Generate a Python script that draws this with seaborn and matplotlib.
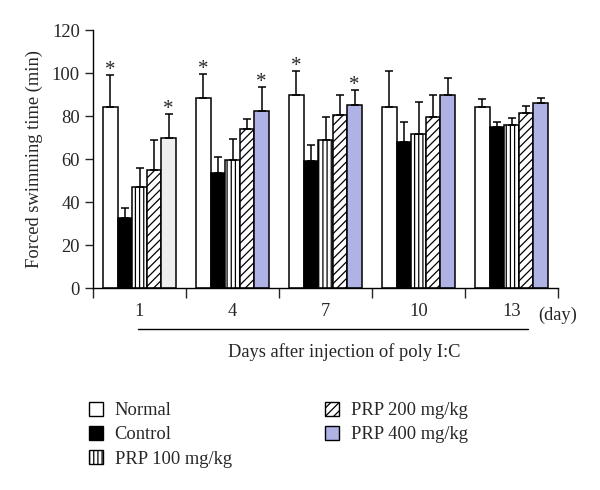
import pandas as pd
import numpy as np
import matplotlib
matplotlib.use('Agg')
import matplotlib.pyplot as plt
from matplotlib.patches import Patch
from matplotlib.lines import Line2D
import seaborn as sns

# --- Data ---
days = ['1', '4', '7', '10', '13']
groups = ['Normal', 'Control', 'PRP 100 mg/kg', 'PRP 200 mg/kg', 'PRP 400 mg/kg']

normal_mean = [84, 88.5, 90, 84, 84]
control_mean = [32.5, 53.5, 59, 68, 75]
prp100_mean = [47, 59.5, 69, 71.5, 76]
prp200_mean = [55, 74, 80.5, 79.5, 81.5]
prp400_mean = [70, 82.5, 85, 90, 86]

normal_err = [15, 11, 11, 17, 3.8]
control_err = [4.5, 7.5, 7.5, 9, 2.4]
prp100_err = [9, 10, 10.5, 15, 3.3]
prp200_err = [14, 4.5, 9.5, 10.5, 3]
prp400_err = [11, 11, 7, 7.5, 2.6]

# significance stars: (day index, group index)
stars = [(0, 0), (0, 4), (1, 0), (1, 4), (2, 0), (2, 4)]

means = [normal_mean, control_mean, prp100_mean, prp200_mean, prp400_mean]
errs = [normal_err, control_err, prp100_err, prp200_err, prp400_err]

df = pd.DataFrame({
    'day': np.repeat([days], len(groups), axis=0).ravel(),
    'group': np.repeat(groups, len(days)),
    'mean': np.concatenate(means),
    'err': np.concatenate(errs),
})

# --- Style ---
sns.set_style('white')
plt.rcParams['font.family'] = ['Liberation Serif', 'DejaVu Serif']
plt.rcParams['hatch.linewidth'] = 0.9

FILLS = ['white', 'black', 'white', 'white', '#aeb2e4']
HATCHES = [None, None, '||||', '////', None]
DAY1_PRP400 = '#eeeeee'
FS = 13.3

fig = plt.figure(figsize=(6, 4.9), dpi=100)
ax = fig.add_axes([93 / 600, 1 - 288 / 490, (558 - 93) / 600, (288 - 30) / 490])

sns.barplot(data=df, x='day', y='mean', hue='group', order=days, hue_order=groups,
            width=0.78, gap=0, errorbar=None, legend=False, ax=ax,
            palette=FILLS, saturation=1, edgecolor='black', linewidth=1.1)

bar_containers = list(ax.containers)
for gi, cont in enumerate(bar_containers):
    for di, bar in enumerate(cont.patches):
        bar.set_facecolor(FILLS[gi])
        bar.set_edgecolor('black')
        if HATCHES[gi]:
            bar.set_hatch(HATCHES[gi])
        if gi == 4 and di == 0:
            bar.set_facecolor(DAY1_PRP400)
        x = bar.get_x() + bar.get_width() / 2
        top = bar.get_height()
        e = errs[gi][di]
        ax.errorbar(x, top, yerr=[[0], [e]], fmt='none', ecolor='black',
                    elinewidth=1.1, capsize=3.2, capthick=1.1, zorder=1)
        if (di, gi) in stars:
            ax.text(x, top + e - 2.2, '*', ha='center', va='bottom', fontsize=15)

# --- Axes ---
ax.set_ylim(0, 120)
ax.set_xlim(-0.5, 4.5)
ax.set_yticks(np.arange(0, 121, 20))
ax.set_xticks(np.arange(-0.5, 4.6, 1))
ax.set_xticklabels([])
ax.set_xticks(range(len(days)), minor=True)
ax.set_xticklabels(days, minor=True)
ax.tick_params(axis='x', which='major', direction='out', length=7, width=1, bottom=True)
ax.tick_params(axis='x', which='minor', length=0, pad=11, labelsize=FS)
ax.tick_params(axis='y', direction='out', length=6, width=1, left=True, labelsize=FS)
for s in ['top', 'right']:
    ax.spines[s].set_visible(False)
for s in ['left', 'bottom']:
    ax.spines[s].set_color('black')
    ax.spines[s].set_linewidth(1)
ax.set_xlabel('')
ax.set_ylabel('Forced swimming time (min)', fontsize=FS, labelpad=6)

ax.text(4.5, -12.5, '(day)', ha='center', va='center', fontsize=FS,
        transform=ax.transData, clip_on=False)

fig.add_artist(Line2D([138 / 600, 528 / 600], [1 - 329 / 490, 1 - 329 / 490],
                      color='black', linewidth=1))
fig.text(344 / 600, 1 - 352 / 490, 'Days after injection of poly I:C',
         ha='center', va='center', fontsize=FS)

# --- Legend ---
handles = [Patch(facecolor=FILLS[i], edgecolor='black', hatch=HATCHES[i],
                 linewidth=1, label=groups[i]) for i in range(len(groups))]
fig.legend(handles=handles, loc='upper left', bbox_to_anchor=(0.148, 1 - 402 / 490),
           ncol=2, frameon=False, fontsize=FS, handlelength=0.75, handleheight=0.75,
           handletextpad=0.65, labelspacing=0.38, columnspacing=5.05,
           borderpad=0, borderaxespad=0)

fig.savefig('out.png', dpi=100, facecolor='white')
